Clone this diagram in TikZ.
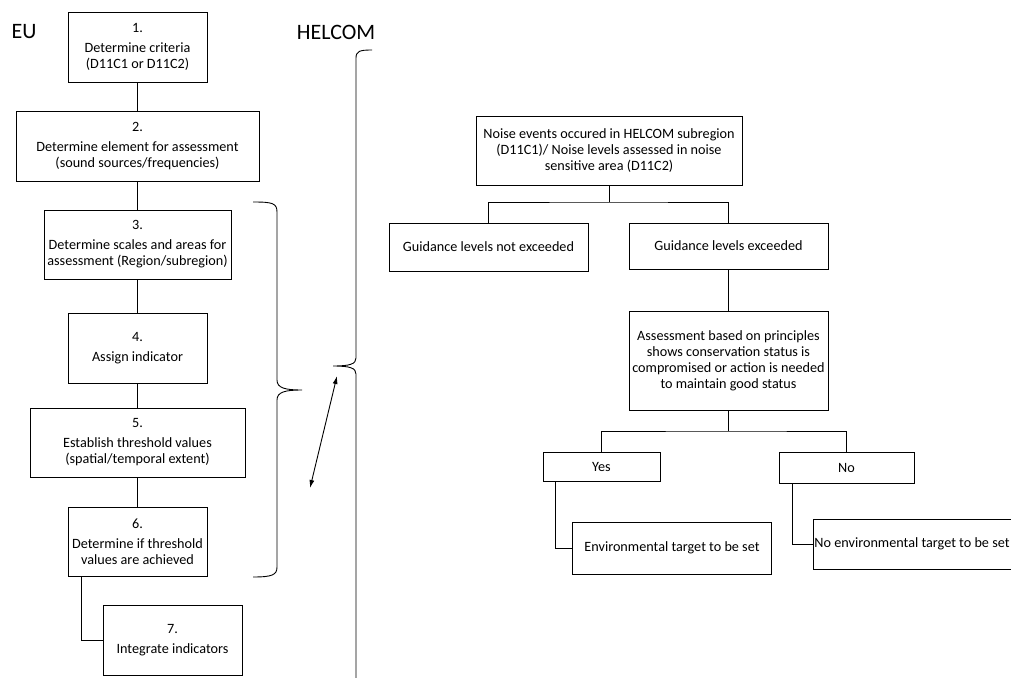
\documentclass[tikz,border=0pt]{standalone}
\usepackage{fontspec}
\setmainfont{Carlito}
\usetikzlibrary{arrows.meta}

\begin{document}
\begin{tikzpicture}[x=1pt, y=-1pt, line width=0.9pt,
    box/.style = {draw, align=center, inner sep=2pt, font=\fontsize{14.2}{16}\selectfont},
    tag/.style = {font=\fontsize{22}{26}\selectfont}]
    \useasboundingbox (0,0) rectangle (1011,677);
    % EU steps
    \node (eu) at (24,32) [tag]{EU};
    \node (helcom) at (336,32) [tag]{HELCOM};
    \node (s1) at (137.5,47) [box, minimum width=139pt, minimum height=70pt]{1.\\[4pt]Determine criteria\\(D11C1 or D11C2)};
    \node (s2) at (137.5,146) [box, minimum width=243pt, minimum height=70pt]{2.\\[4pt]Determine element for assessment\\(sound sources/frequencies)};
    \node (s3) at (137.5,244.5) [box, minimum width=187pt, minimum height=69pt]{3.\\[4pt]Determine scales and areas for\\assessment (Region/subregion)};
    \node (s4) at (137.5,348) [box, minimum width=139pt, minimum height=70pt]{4.\\[4pt]Assign indicator};
    \node (s5) at (137.5,442.5) [box, minimum width=215pt, minimum height=69pt]{5.\\[4pt]Establish threshold values\\(spatial/temporal extent)};
    \node (s6) at (137.5,541.5) [box, minimum width=139pt, minimum height=69pt]{6.\\[4pt]Determine if threshold\\values are achieved};
    \node (s7) at (172.5,640) [box, minimum width=139pt, minimum height=70pt]{7.\\[4pt]Integrate indicators};
    \draw (s1) -- (s2);
    \draw (s2) -- (s3);
    \draw (s3) -- (s4);
    \draw (s4) -- (s5);
    \draw (s5) -- (s6);
    \draw ([xshift=14pt]s6.south west) |- (s7.west);
    % braces
    \draw (253,202) .. controls (272,202) and (277,203) .. (277,212) -- (277,380)
        .. controls (277,388) and (285,390) .. (302,390)
        .. controls (285,390) and (277,392) .. (277,400) -- (277,567)
        .. controls (277,575) and (272,577) .. (253,577);
    \draw (372,50) .. controls (360,50) and (356,51) .. (356,58) -- (356,358)
        .. controls (356,364) and (350,366) .. (333,366)
        .. controls (350,366) and (356,368) .. (356,374) -- (356,700);
    \coordinate (a1) at (337,376);
    \coordinate (a2) at (310,488);
    \draw [{Latex[length=8pt,width=5pt]}-{Latex[length=8pt,width=5pt]}] (a1) -- (a2);
    % HELCOM tree
    \node (r0) at (609,151) [box, minimum width=266pt, minimum height=69pt]{Noise events occured in HELCOM subregion\\(D11C1)/ Noise levels assessed in noise\\sensitive area (D11C2)};
    \node (notex) at (488.5,247) [box, minimum width=199pt, minimum height=48pt]{Guidance levels not exceeded};
    \node (exc) at (728.5,246) [box, minimum width=199pt, minimum height=46pt]{Guidance levels exceeded};
    \node (assess) at (728.5,360.5) [box, minimum width=199pt, minimum height=99pt]{Assessment based on principles\\shows conservation status is\\compromised or action is needed\\to maintain good status};
    \node (yes) at (601.5,466.5) [box, minimum width=117pt, minimum height=29pt]{Yes};
    \node (no) at (846.5,467.5) [box, minimum width=135pt, minimum height=31pt]{No};
    \node (env) at (672,548) [box, minimum width=199pt, minimum height=52pt]{Environmental target to be set};
    \node (noenv) at (813,544) [box, anchor=west, minimum height=50pt, text width=246pt, inner xsep=1pt, align=flush left]{No environmental target to be set};
    \coordinate (j1) at (609,202);
    \coordinate (j2) at (728.5,431);
    \draw (r0) -- (j1);
    \draw (notex.north) |- (j1) -| (exc.north);
    \draw (exc) -- (assess);
    \draw (assess) -- (j2);
    \draw (yes.north) |- (j2) -| (no.north);
    \draw ([xshift=13pt]yes.south west) |- (env.west);
    \draw ([xshift=14pt]no.south west) |- (noenv.west);
\end{tikzpicture}
\end{document}
